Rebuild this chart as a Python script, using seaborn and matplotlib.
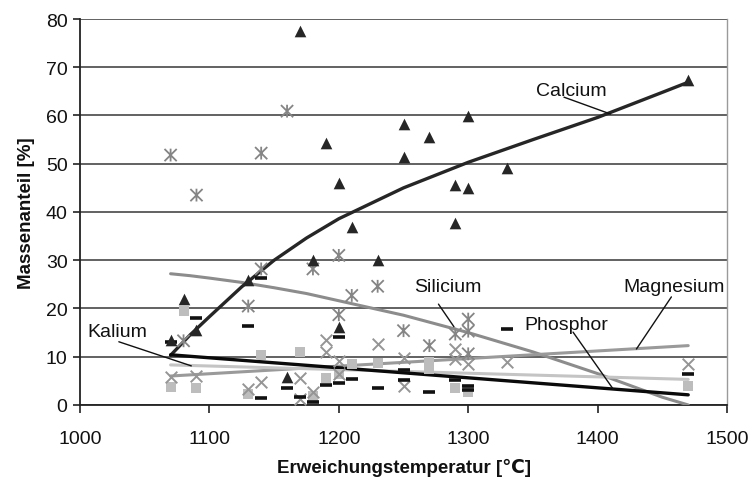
import matplotlib
matplotlib.use("Agg")
import matplotlib.pyplot as plt
from matplotlib.path import Path
import seaborn as sns

# ---------------- data ----------------
calcium_T = [1070, 1080, 1090, 1130, 1160, 1170, 1180, 1190, 1200, 1200, 1210,
             1230, 1250, 1250, 1270, 1290, 1290, 1300, 1300, 1330, 1470]
calcium = [13.5, 22.0, 15.5, 26.0, 5.8, 77.5, 30.0, 54.3, 46.0, 16.2, 36.8,
           30.0, 58.3, 51.4, 55.5, 45.6, 37.7, 59.9, 45.0, 49.2, 67.4]

silicium_T = [1070, 1090, 1140, 1160, 1140, 1130, 1180, 1200, 1230, 1210, 1200,
              1300, 1300, 1250, 1290, 1080, 1300, 1270]
silicium = [51.8, 43.5, 52.2, 60.9, 28.2, 20.5, 28.2, 31.0, 24.6, 22.7, 18.7,
            17.8, 15.3, 15.4, 14.7, 13.3, 10.6, 12.3]

magnesium_T = [1190, 1190, 1230, 1200, 1170, 1180, 1170, 1290, 1290, 1250, 1300,
               1250, 1070, 1090, 1130, 1140, 1330, 1470, 1200]
magnesium = [13.5, 11.0, 12.6, 9.2, 5.6, 2.6, 1.2, 11.6, 9.5, 9.7, 8.5,
             4.0, 5.8, 6.0, 3.3, 4.7, 8.9, 8.5, 6.4]

kalium_T = [1070, 1080, 1090, 1130, 1140, 1170, 1180, 1190, 1200, 1210, 1230,
            1270, 1270, 1290, 1300, 1470]
kalium = [3.7, 19.5, 3.5, 2.3, 10.4, 11.0, 1.9, 5.6, 6.4, 8.5, 8.7,
          7.5, 9.0, 3.5, 2.7, 4.0]

phosphor_T = [1070, 1090, 1130, 1140, 1140, 1160, 1170, 1180, 1190, 1200, 1200,
              1210, 1230, 1250, 1250, 1270, 1290, 1300, 1300, 1330, 1470]
phosphor = [13.0, 18.0, 16.4, 26.3, 1.5, 3.5, 1.6, 0.7, 4.2, 14.1, 4.6,
            5.4, 3.5, 7.3, 5.2, 2.7, 5.2, 3.9, 3.0, 15.7, 6.4]

# trend lines
curve_T = [1070, 1085, 1100, 1125, 1150, 1175, 1200, 1250, 1300, 1350, 1400, 1450, 1470]
calcium_trend = [10.3, 14.5, 18.3, 24.5, 30.0, 34.6, 38.6, 45.0, 50.3, 55.0, 59.6, 64.8, 66.9]
silicium_trend = [27.2, 26.8, 26.3, 25.4, 24.3, 23.1, 21.6, 18.6, 15.0, 11.0, 6.5, 1.6, 0.0]
line_T = [1070, 1470]
magnesium_trend = [6.0, 12.3]
kalium_trend = [8.3, 5.3]
phosphor_trend = [10.4, 2.1]

x_ticks = [1000, 1100, 1200, 1300, 1400, 1500]
y_ticks = [0, 10, 20, 30, 40, 50, 60, 70, 80]

# ---------------- styling ----------------
sns.set_theme(style="white")
plt.rcParams["font.family"] = ["Liberation Sans", "DejaVu Sans"]

fig, ax = plt.subplots(figsize=(7.52, 4.81), dpi=100)
fig.subplots_adjust(left=0.1064, right=0.9668, bottom=0.156, top=0.9584)

c_ca = "#262626"
c_si = "#858585"
c_mg = "#959595"
c_k = "#bdbdbd"
c_p = "#111111"

asterisk = Path([(-1, -1), (1, 1), (-1, 1), (1, -1), (0, -1.05), (0, 1.05)],
                [Path.MOVETO, Path.LINETO, Path.MOVETO, Path.LINETO, Path.MOVETO, Path.LINETO])

# trend lines
sns.lineplot(x=curve_T, y=calcium_trend, ax=ax, color=c_ca, lw=2.4, estimator=None, sort=False, zorder=4)
sns.lineplot(x=curve_T, y=silicium_trend, ax=ax, color="#8c8c8c", lw=2.2, estimator=None, sort=False, zorder=3)
sns.lineplot(x=line_T, y=magnesium_trend, ax=ax, color="#9a9a9a", lw=2.2, estimator=None, sort=False, zorder=3)
sns.lineplot(x=line_T, y=kalium_trend, ax=ax, color="#c4c4c4", lw=2.2, estimator=None, sort=False, zorder=3)
sns.lineplot(x=line_T, y=phosphor_trend, ax=ax, color="#0a0a0a", lw=2.4, estimator=None, sort=False, zorder=4)

# scatter points
sns.scatterplot(x=kalium_T, y=kalium, ax=ax, marker="s", s=42, color=c_k, edgecolor=c_k, linewidth=0, zorder=5)
sns.scatterplot(x=magnesium_T, y=magnesium, ax=ax, marker="x", s=70, color=c_mg, linewidth=1.4, zorder=5)
sns.scatterplot(x=silicium_T, y=silicium, ax=ax, marker=asterisk, s=85, facecolor="none",
                edgecolor=c_si, linewidth=1.3, zorder=5)
sns.scatterplot(x=phosphor_T, y=phosphor, ax=ax, marker="_", s=70, color=c_p, linewidth=2.6, zorder=6)
sns.scatterplot(x=calcium_T, y=calcium, ax=ax, marker="^", s=70, color=c_ca, edgecolor=c_ca, linewidth=0, zorder=6)

# axes
ax.set_xlim(1000, 1500)
ax.set_ylim(0, 80)
ax.set_xticks(x_ticks)
ax.set_yticks(y_ticks)
ax.set_xticklabels([str(t) for t in x_ticks])
ax.set_yticklabels([str(t) for t in y_ticks])
ax.yaxis.grid(True, color="#555555", lw=1.3)
ax.xaxis.grid(False)
ax.set_axisbelow(True)

for side in ["left", "bottom"]:
    ax.spines[side].set_color("#222222")
    ax.spines[side].set_linewidth(1.3)
ax.spines["right"].set_color("#9a9a9a")
ax.spines["right"].set_linewidth(1.0)
ax.spines["top"].set_visible(False)

ax.tick_params(axis="x", which="both", bottom=True, direction="out", length=6, width=1.2,
               color="#222222", labelsize=14, pad=12, labelcolor="#111111")
ax.tick_params(axis="y", which="both", left=True, direction="out", length=5, width=1.2,
               color="#222222", labelsize=14, pad=4, labelcolor="#111111")

ax.set_xlabel("Erweichungstemperatur [℃]", fontsize=13.5, fontweight="bold", labelpad=8, color="#111111")
ax.set_ylabel("Massenanteil [%]", fontsize=13.5, fontweight="bold", labelpad=8, color="#111111")

# labels with pointer lines
labels = [
    ("Calcium", 1380, 65.1, 1374, 63.8, 1410, 60.3),
    ("Silicium", 1284, 24.5, 1277, 20.9, 1289, 16.2),
    ("Magnesium", 1459, 24.5, 1457, 22.4, 1430, 11.6),
    ("Phosphor", 1376, 16.6, 1381, 15.1, 1412, 3.3),
    ("Kalium", 1029, 15.3, 1030, 13.1, 1086, 8.1),
]
for text, tx, ty, x0, y0, x1, y1 in labels:
    ax.plot([x0, x1], [y0, y1], color="#111111", lw=1.0, zorder=7)
    ax.text(tx, ty, text, ha="center", va="center", fontsize=14, color="#111111", zorder=8)

fig.savefig("out.png", dpi=100)
